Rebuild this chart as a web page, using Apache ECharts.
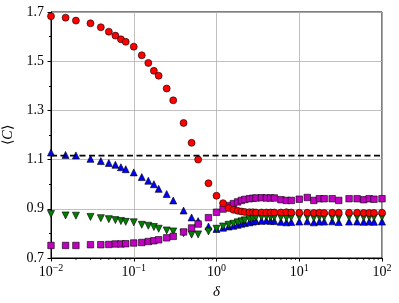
<!DOCTYPE html>
<html><head><meta charset="utf-8">
<script src="https://cdn.jsdelivr.net/npm/echarts@6/dist/echarts.min.js"></script>
<style>html,body{margin:0;padding:0;background:#fff}#c{width:399px;height:303px}</style>
</head><body><div id="c"></div>
<script>
const delta = [0.01,0.015,0.02,0.03,0.04,0.05,0.06,0.07,0.08,0.1,0.125,0.15,0.175,0.2,0.25,0.3,0.4,0.5,0.6,0.8,1,1.2,1.4,1.6,1.8,2,2.2,2.5,2.75,3,3.5,4,4.5,5,6,7,8,10,12.5,15,17.5,20,25,30,40,50,60,70,80,100];
const redC = [1.683,1.677,1.665,1.654,1.638,1.620,1.604,1.589,1.579,1.559,1.524,1.493,1.461,1.441,1.389,1.341,1.249,1.168,1.100,1.004,0.953,0.923,0.903,0.896,0.892,0.889,0.887,0.886,0.886,0.885,0.885,0.885,0.885,0.885,0.885,0.886,0.885,0.884,0.884,0.883,0.884,0.883,0.884,0.884,0.884,0.884,0.883,0.883,0.883,0.884];
const blueC = [1.129,1.119,1.117,1.103,1.094,1.086,1.079,1.069,1.061,1.048,1.029,1.014,1.000,0.981,0.960,0.934,0.893,0.865,0.850,0.828,0.818,0.823,0.828,0.831,0.835,0.839,0.842,0.845,0.848,0.850,0.851,0.852,0.851,0.850,0.847,0.845,0.846,0.848,0.849,0.845,0.848,0.848,0.849,0.846,0.848,0.848,0.847,0.848,0.847,0.848];
const greenC = [0.879,0.873,0.872,0.867,0.862,0.858,0.854,0.850,0.847,0.845,0.835,0.831,0.826,0.819,0.812,0.808,0.801,0.795,0.796,0.808,0.819,0.828,0.835,0.839,0.845,0.849,0.853,0.858,0.862,0.865,0.866,0.868,0.866,0.866,0.864,0.863,0.865,0.866,0.866,0.863,0.866,0.866,0.866,0.864,0.866,0.866,0.865,0.866,0.865,0.866];
const magentaC = [0.751,0.751,0.751,0.754,0.754,0.755,0.757,0.757,0.758,0.761,0.763,0.767,0.770,0.774,0.782,0.788,0.806,0.822,0.838,0.864,0.886,0.899,0.913,0.921,0.928,0.934,0.938,0.941,0.943,0.944,0.945,0.944,0.944,0.944,0.937,0.934,0.934,0.939,0.946,0.934,0.941,0.941,0.941,0.934,0.941,0.941,0.937,0.941,0.939,0.941];
const dashedLevel = 1.116;
const xMin = 0.01, xMax = 100;
const yMin = 0.7, yMax = 1.7, yStep = 0.2;
const xMinorTicks = [];
[0.01,0.1,1,10].forEach(d => { for (let k = 2; k <= 9; k++) xMinorTicks.push(+(k*d).toPrecision(3)); });

const FONT = 'Liberation Serif';
const chart = echarts.init(document.getElementById('c'), null, {renderer:'canvas'});
const pairs = arr => delta.map((x,i) => [x, arr[i]]);
const sup = {'-2':'−2','-1':'−1','0':'0','1':'1','2':'2'};
const mk = (name, data, symbol, color, z, extra) => Object.assign({
  type:'scatter', name, data:pairs(data), symbol, symbolSize:7, z,
  itemStyle:{color, borderColor:'#000', borderWidth:0.6, opacity:1},
  emphasis:{disabled:true}
}, extra || {});

chart.setOption({
  animation:false,
  grid:{left:51, right:17, top:12, bottom:45, containLabel:false, outerBoundsMode:'none',
    show:true, borderColor:'#000', borderWidth:1, backgroundColor:'transparent'},
  xAxis:{type:'log', logBase:10, min:xMin, max:xMax,
    name:'δ', nameLocation:'middle', nameGap:27,
    nameTextStyle:{fontFamily:FONT, fontSize:15, fontStyle:'italic', color:'#000'},
    axisLine:{lineStyle:{color:'#000', width:1}},
    axisTick:{show:true, inside:false, length:3.5, lineStyle:{color:'#000'}},
    splitLine:{show:true, lineStyle:{color:'#b0b0b0', width:0.8}},
    axisLabel:{margin:5, color:'#000', hideOverlap:false,
      formatter: v => { const e = Math.round(Math.log10(v)); return '{b|10}{s|' + sup[String(e)] + '}'; },
      rich:{b:{fontFamily:FONT, fontSize:14, color:'#000', verticalAlign:'bottom', lineHeight:16},
            s:{fontFamily:FONT, fontSize:10, color:'#000', verticalAlign:'top', lineHeight:9}}}
  },
  yAxis:{type:'value', min:yMin, max:yMax, interval:yStep,
    name:'⟨{i|C}⟩', nameLocation:'middle', nameGap:36, nameRotate:90,
    nameTextStyle:{fontFamily:FONT, fontSize:14, color:'#000',
      rich:{i:{fontFamily:FONT, fontSize:14, fontStyle:'italic', color:'#000'}}},
    axisLine:{show:true, lineStyle:{color:'#000', width:1}},
    axisTick:{show:true, inside:false, length:3.5, lineStyle:{color:'#000'}},
    minorTick:{show:true, splitNumber:2, length:2, lineStyle:{color:'#000'}},
    splitLine:{show:true, lineStyle:{color:'#b0b0b0', width:0.8}},
    axisLabel:{margin:7, fontFamily:FONT, fontSize:14, color:'#000', formatter: v => v.toFixed(1)}
  },
  series:[
    {type:'custom', data:xMinorTicks.map(v => [v, yMin]), z:1, silent:true,
      renderItem:(params, api) => { const p = api.coord([api.value(0), api.value(1)]);
        return {type:'line', shape:{x1:p[0], y1:p[1], x2:p[0], y2:p[1]+2}, style:{stroke:'#000', lineWidth:0.8}}; }},
    mk('blue', blueC, 'triangle', '#0000ff', 3),
    mk('green', greenC, 'triangle', '#008000', 4, {symbolRotate:180}),
    mk('magenta', magentaC, 'rect', '#bf00bf', 5, {symbolSize:6.5}),
    mk('red', redC, 'circle', '#ff0000', 6),
    {type:'line', data:[[xMin, dashedLevel],[xMax, dashedLevel]], symbol:'none', z:7, silent:true,
      lineStyle:{color:'#000', width:1.6, type:[6,3.5]}}
  ]
});
</script></body></html>
